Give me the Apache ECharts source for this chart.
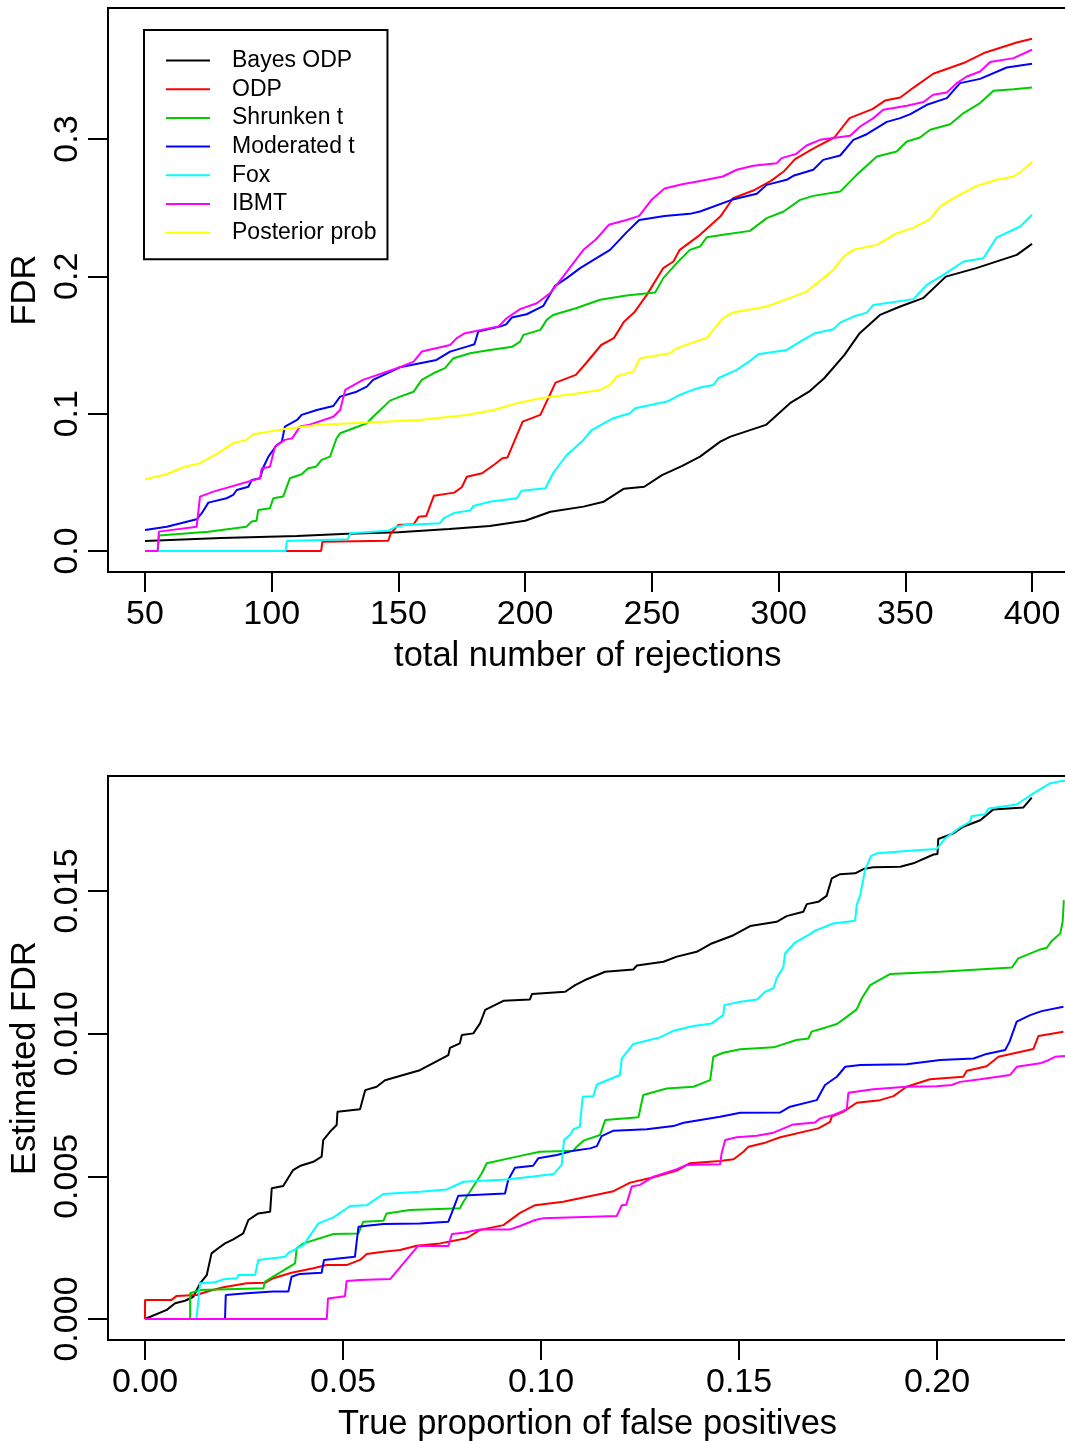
<!DOCTYPE html>
<html>
<head>
<meta charset="utf-8">
<title>FDR comparison</title>
<script src="https://cdn.jsdelivr.net/npm/echarts@6/dist/echarts.min.js"></script>
<style>
  html, body { margin: 0; padding: 0; background: #fff; }
  #main { width: 1065px; height: 1441px; }
</style>
</head>
<body>
<div id="main"></div>
<script>
// method names, in legend order
var methods = ['Bayes ODP', 'ODP', 'Shrunken t', 'Moderated t', 'Fox', 'IBMT', 'Posterior prob'];
var colors = ['#000000', '#FF0000', '#00CD00', '#0000FF', '#00FFFF', '#FF00FF', '#FFFF00'];

// tick labels
var topXTicks = [50, 100, 150, 200, 250, 300, 350, 400];
var topYTicks = [0, 0.1, 0.2, 0.3];
var botXTicks = [0, 0.05, 0.10, 0.15, 0.20];
var botYTicks = [0, 0.005, 0.010, 0.015];

// ---- top panel: FDR vs total number of rejections ----
var topBayesODP = [[50,0.0073],[80,0.0095],[110,0.011],[130,0.0125],[150,0.0136],[170,0.016],[186,0.0182],[200,0.022],[210,0.0286],[223,0.0323],[231,0.0359],[239,0.0454],[247,0.0468],[254,0.0553],[262,0.062],[269,0.0687],[277,0.0796],[281,0.0833],[295,0.0918],[304.5,0.1076],[312,0.116],[318,0.1258],[326,0.1428],[332,0.1586],[340,0.1719],[348,0.178],[357,0.1841],[366,0.1998],[378,0.206],[394,0.2156],[400,0.2236]];
var topODP = [[50,0],[119.5,0],[120,0.0068],[146,0.0075],[147,0.0129],[150,0.019],[156,0.0194],[158,0.025],[161,0.0255],[164,0.0403],[172,0.0425],[175,0.0464],[177,0.0541],[183,0.0566],[188,0.0632],[191,0.0675],[193,0.068],[199,0.0942],[206,0.0991],[212,0.1226],[220,0.1282],[224,0.1367],[230,0.15],[235,0.155],[239,0.167],[243,0.1736],[248,0.1865],[254.5,0.206],[258.5,0.2108],[261,0.2193],[269,0.2302],[277,0.2435],[282,0.2569],[290,0.2625],[297,0.2695],[302,0.2763],[306.5,0.2853],[314,0.2933],[322,0.3011],[328,0.3152],[337,0.3218],[342,0.328],[348,0.3302],[353,0.3371],[361,0.3475],[373,0.3553],[381,0.3626],[394,0.3703],[400,0.373]];
var topShrunkenT = [[50,0],[55,0],[55.5,0.0112],[75,0.014],[90,0.0177],[92,0.0214],[94,0.022],[94.7,0.0299],[99.3,0.0311],[100.6,0.0384],[104.5,0.0396],[107.2,0.053],[111.8,0.0559],[114.4,0.0602],[117.5,0.0614],[119.7,0.0663],[123,0.0687],[125.6,0.0821],[127,0.0857],[137.5,0.093],[140,0.0978],[146.7,0.1095],[150.6,0.1124],[156,0.116],[159.2,0.1246],[163.8,0.1294],[168.4,0.1331],[171.7,0.1404],[178.3,0.144],[186,0.1464],[195,0.1488],[198,0.1525],[199.3,0.1574],[206,0.161],[208.5,0.1683],[211,0.1719],[220,0.1768],[229.6,0.1829],[240,0.186],[251.3,0.1882],[254.5,0.1987],[259.8,0.2096],[265,0.2193],[269,0.2217],[271.7,0.2285],[279.5,0.2307],[288.7,0.2331],[295.3,0.2424],[302,0.2472],[308.5,0.2557],[313.7,0.2586],[324.3,0.2617],[330.8,0.2739],[338.8,0.2872],[346.6,0.2909],[350.6,0.2982],[355.8,0.3011],[359.8,0.3067],[367.7,0.3108],[373,0.3189],[379.5,0.3262],[384.8,0.3351],[392.7,0.3363],[400,0.3375]];
var topModeratedT = [[50,0.0153],[58.6,0.0177],[70.4,0.0231],[72.4,0.0275],[75,0.0352],[82.2,0.0384],[84.8,0.0408],[86.2,0.0444],[90.8,0.0468],[92.1,0.0517],[95.4,0.053],[96.7,0.061],[98.7,0.0687],[102,0.0772],[104,0.0796],[105.2,0.0906],[110,0.0954],[111.8,0.0991],[117.8,0.1027],[124.3,0.1056],[127,0.1124],[133.5,0.116],[137.5,0.1197],[140,0.1246],[150.6,0.1338],[165,0.1391],[170.4,0.1452],[177,0.1488],[180,0.1505],[181.5,0.1598],[190,0.1634],[192.5,0.165],[194.7,0.17],[200.6,0.1724],[207.2,0.1785],[211.8,0.1931],[216.4,0.1987],[221.7,0.206],[227,0.212],[233.5,0.2193],[240,0.232],[245,0.241],[255,0.244],[265,0.2455],[269,0.2472],[281.5,0.2557],[291.4,0.2601],[295.3,0.2666],[303.2,0.2703],[305.8,0.2732],[313.7,0.2776],[317.6,0.2848],[324.3,0.288],[329.5,0.2994],[334.8,0.3035],[342.7,0.3125],[348,0.3152],[352,0.3181],[358.5,0.3249],[366.4,0.3298],[371.6,0.3407],[379.5,0.3438],[390,0.3521],[400,0.3548]];
var topFox = [[50,0],[105.5,0],[106,0.0073],[130,0.0085],[131,0.0129],[146,0.0148],[149.3,0.0177],[152.6,0.019],[166.4,0.0202],[167.7,0.0238],[172.3,0.0279],[178.3,0.0294],[179.6,0.0328],[186,0.0359],[196.7,0.0384],[198.6,0.0439],[208,0.0457],[211,0.0566],[216.4,0.0699],[219,0.0741],[223,0.0809],[226.3,0.0881],[231,0.093],[234.8,0.0967],[241.4,0.1003],[243.4,0.104],[256,0.1088],[261,0.1136],[265,0.1166],[269,0.119],[274.3,0.1209],[276.2,0.1258],[283.5,0.1319],[288.7,0.1384],[292,0.1433],[303.2,0.1464],[308.5,0.1525],[314.4,0.1586],[321.6,0.1615],[324.3,0.1663],[329.5,0.1707],[334.8,0.1736],[337.4,0.1792],[353.2,0.1834],[358.5,0.1938],[365,0.2011],[373,0.2108],[380.8,0.2132],[386,0.2282],[395.3,0.2363],[400,0.2448]];
var topIBMT = [[50,0],[55,0],[55.5,0.0141],[70.4,0.0177],[71.7,0.0396],[77,0.0432],[95.4,0.053],[96,0.06],[99.3,0.0614],[101.3,0.076],[105.2,0.0809],[108,0.082],[111.2,0.0906],[115,0.092],[124.3,0.0978],[127,0.1027],[129,0.1173],[136,0.1246],[150.6,0.1338],[156,0.1379],[159.2,0.1452],[170.4,0.15],[173,0.155],[176.3,0.1586],[189.4,0.1634],[192.7,0.1695],[198,0.1761],[204.6,0.1804],[209.8,0.1877],[215,0.1998],[219,0.2096],[223,0.2193],[228,0.227],[233,0.2375],[240,0.241],[245,0.244],[250,0.256],[255,0.264],[262,0.267],[269,0.2695],[278,0.2727],[283.5,0.2776],[290,0.2805],[299.3,0.2824],[301.2,0.2861],[307,0.2892],[311,0.2953],[316.4,0.2994],[328.2,0.3023],[332.2,0.3091],[337.4,0.3152],[341.3,0.3213],[350.6,0.3242],[357.2,0.3269],[361,0.3322],[366.4,0.3339],[370.3,0.3407],[374.3,0.3455],[379.5,0.3492],[383.5,0.356],[392.7,0.3589],[400,0.365]];
var topPosteriorProb = [[50,0.0522],[58.6,0.0559],[65,0.061],[71.7,0.0639],[78.3,0.0707],[84.8,0.0785],[90,0.0809],[92.7,0.085],[104.6,0.0887],[117.8,0.0918],[137.5,0.0935],[158.5,0.0954],[177,0.0991],[187.5,0.1027],[196.7,0.1076],[206,0.1112],[219,0.1144],[229.6,0.1173],[233.5,0.1209],[236,0.127],[242.7,0.1306],[245.3,0.1404],[257.2,0.144],[259.8,0.1476],[269,0.1537],[271.6,0.155],[278,0.1695],[282,0.1736],[295.3,0.178],[300.6,0.1816],[311,0.1889],[317.7,0.1987],[321.6,0.2047],[325.6,0.2144],[329.5,0.2193],[338.8,0.2229],[346.6,0.2314],[353.2,0.2355],[359.8,0.2416],[363.7,0.2508],[369,0.2569],[378.2,0.2659],[386,0.2703],[392.7,0.2727],[395.5,0.276],[400,0.2832]];

// ---- bottom panel: estimated FDR vs true proportion of false positives ----
var botBayesODP = [[0,0],[0.0055,0.00032],[0.0076,0.00055],[0.0101,0.00064],[0.0122,0.00078],[0.0139,0.00125],[0.0156,0.00154],[0.0168,0.0023],[0.0185,0.00248],[0.0202,0.00265],[0.0223,0.00279],[0.0248,0.003],[0.0261,0.00347],[0.0286,0.0037],[0.0316,0.00376],[0.032,0.00458],[0.0349,0.00466],[0.0374,0.00522],[0.0391,0.00536],[0.0425,0.00551],[0.0446,0.00569],[0.045,0.00627],[0.0467,0.00656],[0.0484,0.0068],[0.0486,0.00726],[0.0543,0.00735],[0.0556,0.00802],[0.0585,0.00814],[0.0606,0.00837],[0.0694,0.00872],[0.0766,0.00925],[0.077,0.0095],[0.0795,0.00966],[0.08,0.00995],[0.0829,0.01001],[0.0846,0.01036],[0.0859,0.01083],[0.0905,0.01115],[0.0972,0.0112],[0.0977,0.01139],[0.1061,0.01147],[0.1086,0.0117],[0.1111,0.01188],[0.1162,0.01217],[0.1233,0.01225],[0.1242,0.01239],[0.1309,0.01252],[0.1343,0.0127],[0.1393,0.01287],[0.1431,0.01316],[0.1486,0.01345],[0.1528,0.01377],[0.1595,0.01392],[0.162,0.01412],[0.1662,0.01427],[0.1671,0.01454],[0.17,0.01462],[0.1721,0.01483],[0.1734,0.01544],[0.1755,0.01559],[0.1793,0.01562],[0.1814,0.01577],[0.1839,0.01583],[0.1907,0.01585],[0.194,0.01597],[0.1991,0.01628],[0.2001,0.0163],[0.2003,0.01682],[0.2041,0.01702],[0.2066,0.01725],[0.2109,0.01748],[0.2142,0.01786],[0.2218,0.01793],[0.2239,0.01827]];
var botODP = [[0,0],[0,0.00067],[0.0067,0.00067],[0.008,0.00081],[0.013,0.00084],[0.0164,0.00099],[0.0198,0.00111],[0.0257,0.00125],[0.0303,0.00127],[0.0324,0.00143],[0.037,0.00162],[0.0425,0.00178],[0.0459,0.00189],[0.0509,0.00189],[0.0543,0.00207],[0.056,0.00228],[0.0602,0.00236],[0.0644,0.00242],[0.0686,0.00257],[0.0745,0.00265],[0.0812,0.00283],[0.0846,0.00312],[0.0905,0.00329],[0.0947,0.00372],[0.0985,0.00399],[0.1056,0.00411],[0.1183,0.00448],[0.1225,0.00478],[0.1284,0.00497],[0.1343,0.0052],[0.1376,0.00546],[0.1452,0.00554],[0.1486,0.0056],[0.1511,0.00586],[0.1524,0.00604],[0.1566,0.00618],[0.1604,0.00637],[0.17,0.00668],[0.173,0.00691],[0.1734,0.00709],[0.1763,0.00726],[0.1797,0.00758],[0.1856,0.00767],[0.189,0.00781],[0.1923,0.00814],[0.1982,0.0084],[0.2066,0.00849],[0.2075,0.0087],[0.2125,0.00886],[0.2155,0.00919],[0.2243,0.00946],[0.2256,0.00992],[0.2319,0.01007]];
var botShrunkenT = [[0,0],[0.0114,0],[0.0114,0.0009],[0.0139,0.00102],[0.0299,0.00108],[0.0303,0.00131],[0.0379,0.00195],[0.0383,0.00248],[0.04,0.00265],[0.0476,0.00298],[0.0539,0.003],[0.0551,0.00341],[0.0602,0.00344],[0.061,0.0037],[0.0669,0.00382],[0.0795,0.00388],[0.0804,0.00411],[0.085,0.0051],[0.0863,0.00546],[0.0939,0.00569],[0.0997,0.00586],[0.1082,0.0059],[0.109,0.00604],[0.1107,0.00625],[0.1149,0.00645],[0.1162,0.00697],[0.1246,0.00707],[0.1258,0.00785],[0.1317,0.00808],[0.1385,0.00814],[0.1427,0.00837],[0.1435,0.00919],[0.146,0.00933],[0.1503,0.00945],[0.1587,0.00952],[0.1645,0.00978],[0.1675,0.00983],[0.1683,0.01007],[0.1717,0.01021],[0.1747,0.01034],[0.1772,0.01059],[0.1797,0.01085],[0.181,0.01124],[0.1831,0.0117],[0.1881,0.01209],[0.2008,0.01217],[0.2189,0.01232],[0.2205,0.01264],[0.2256,0.01293],[0.2277,0.01301],[0.229,0.01326],[0.2311,0.01351],[0.2317,0.01392],[0.232,0.01468]];
var botModeratedT = [[0,0],[0.0202,0],[0.0204,0.00084],[0.0257,0.0009],[0.0324,0.00096],[0.0362,0.00096],[0.037,0.00148],[0.0391,0.00158],[0.0446,0.00162],[0.0452,0.00207],[0.0476,0.0021],[0.053,0.00218],[0.0539,0.00323],[0.056,0.00327],[0.0602,0.00333],[0.0694,0.00335],[0.0766,0.00341],[0.0779,0.00388],[0.0791,0.00432],[0.0909,0.0044],[0.0917,0.00487],[0.0934,0.0053],[0.098,0.00537],[0.0993,0.00563],[0.104,0.00575],[0.1082,0.0059],[0.1124,0.00598],[0.1141,0.00606],[0.1153,0.00641],[0.1183,0.0066],[0.1267,0.00665],[0.1334,0.00676],[0.136,0.00688],[0.1452,0.00709],[0.1503,0.00723],[0.1604,0.00724],[0.1629,0.00744],[0.1696,0.00767],[0.1717,0.0082],[0.1747,0.00849],[0.1768,0.00884],[0.1806,0.0089],[0.1923,0.00893],[0.2008,0.00908],[0.2092,0.00913],[0.2125,0.00929],[0.2172,0.00943],[0.2183,0.00972],[0.2201,0.01042],[0.2235,0.01065],[0.2264,0.01079],[0.2319,0.01094]];
var botFox = [[0,0],[0.013,0],[0.0139,0.00125],[0.0177,0.00129],[0.0198,0.00139],[0.0232,0.00143],[0.0236,0.00154],[0.0278,0.00154],[0.0286,0.00207],[0.0354,0.00218],[0.0362,0.00232],[0.04,0.00259],[0.0438,0.00335],[0.0476,0.00356],[0.0518,0.00396],[0.056,0.00399],[0.0602,0.00438],[0.0694,0.00446],[0.0762,0.00454],[0.0804,0.00481],[0.0913,0.00489],[0.098,0.00499],[0.1032,0.00508],[0.1052,0.0054],[0.1058,0.00627],[0.1073,0.00645],[0.1082,0.00665],[0.1098,0.00674],[0.1105,0.00779],[0.1132,0.00781],[0.1141,0.00822],[0.1199,0.00855],[0.1204,0.00913],[0.1233,0.00964],[0.13,0.00987],[0.1334,0.0101],[0.1385,0.01027],[0.1431,0.01036],[0.146,0.01065],[0.1463,0.011],[0.1503,0.01112],[0.1545,0.0112],[0.1566,0.01147],[0.1587,0.01159],[0.1595,0.01194],[0.1612,0.01234],[0.1616,0.01281],[0.1641,0.01319],[0.1679,0.01349],[0.1692,0.01361],[0.1738,0.01386],[0.1793,0.01396],[0.1797,0.01451],[0.1806,0.01486],[0.1818,0.01573],[0.1833,0.01622],[0.1848,0.01632],[0.1949,0.01643],[0.1999,0.01647],[0.202,0.01684],[0.2058,0.01723],[0.2083,0.01742],[0.2087,0.01762],[0.2121,0.01769],[0.213,0.01789],[0.2201,0.01803],[0.2243,0.01842],[0.2285,0.01877],[0.2311,0.01885],[0.2335,0.01887]];
var botIBMT = [[0,0],[0.0459,0],[0.0462,0.00072],[0.0505,0.0008],[0.0509,0.00133],[0.0543,0.00137],[0.0619,0.0014],[0.069,0.00257],[0.0766,0.00256],[0.0775,0.00298],[0.0804,0.00302],[0.0846,0.00314],[0.0922,0.00314],[0.0947,0.00326],[0.0985,0.00347],[0.1006,0.00353],[0.1191,0.00361],[0.1204,0.00399],[0.1215,0.004],[0.1229,0.00464],[0.125,0.0047],[0.1284,0.00499],[0.1343,0.00525],[0.1368,0.0054],[0.1452,0.00542],[0.1456,0.00581],[0.1465,0.00627],[0.1494,0.00637],[0.1545,0.00642],[0.1587,0.00653],[0.1637,0.00682],[0.1692,0.00689],[0.1705,0.00703],[0.1738,0.00715],[0.1763,0.00729],[0.1772,0.00735],[0.1776,0.00793],[0.1839,0.00805],[0.1923,0.00814],[0.1999,0.00816],[0.2037,0.0082],[0.2058,0.00831],[0.2109,0.0084],[0.2184,0.00855],[0.2201,0.00884],[0.226,0.00896],[0.2281,0.00907],[0.2298,0.00919],[0.2323,0.00922]];

var topData = [topBayesODP, topODP, topShrunkenT, topModeratedT, topFox, topIBMT, topPosteriorProb];
var botData = [botBayesODP, botODP, botShrunkenT, botModeratedT, botFox, botIBMT];

var FONT = 'Liberation Sans, Arial, Helvetica, sans-serif';
var black = '#000';

function xAxisCfg(gridIndex, min, max, ticks, digits, name) {
	return {
		type: 'value',
		gridIndex: gridIndex,
		min: min,
		max: max,
		name: name,
		nameLocation: 'middle',
		nameGap: 67,
		nameMoveOverlap: false,
		nameTextStyle: { color: black, fontSize: 34.5, fontFamily: FONT },
		axisLine: { show: false, onZero: false },
		splitLine: { show: false },
		axisTick: {
			show: true, inside: false, length: 20,
			customValues: ticks,
			lineStyle: { color: black, width: 2 }
		},
		axisLabel: {
			customValues: ticks,
			margin: 26,
			color: black,
			fontSize: 34,
			fontFamily: FONT,
			formatter: function (v) { return digits ? v.toFixed(digits) : String(v); }
		}
	};
}

function yAxisCfg(gridIndex, min, max, ticks, digits, name) {
	return {
		type: 'value',
		gridIndex: gridIndex,
		min: min,
		max: max,
		name: name,
		nameLocation: 'middle',
		nameGap: 65,
		nameMoveOverlap: false,
		nameTextStyle: { color: black, fontSize: 34.5, fontFamily: FONT },
		axisLine: { show: false, onZero: false },
		splitLine: { show: false },
		axisTick: {
			show: true, inside: false, length: 20,
			customValues: ticks,
			lineStyle: { color: black, width: 2 }
		},
		axisLabel: {
			customValues: ticks,
			rotate: 90,
			margin: 23,
			color: black,
			fontSize: 34,
			fontFamily: FONT,
			formatter: function (v) { return v.toFixed(digits); }
		}
	};
}

var series = [];
methods.forEach(function (m, i) {
	series.push({
		name: m, type: 'line', xAxisIndex: 0, yAxisIndex: 0,
		data: topData[i], showSymbol: false, clip: true,
		color: colors[i],
		lineStyle: { width: 2, color: colors[i] }
	});
});
botData.forEach(function (d, i) {
	series.push({
		name: methods[i], type: 'line', xAxisIndex: 1, yAxisIndex: 1,
		data: d, showSymbol: false, clip: true,
		color: colors[i],
		lineStyle: { width: 2, color: colors[i] }
	});
});

var myChart = echarts.init(document.getElementById('main'), null, { renderer: 'canvas' });
var option = {
	backgroundColor: '#fff',
	animation: false,
	tooltip: { show: false },
	legend: {
		data: methods,
		orient: 'vertical',
		left: 144,
		top: 30,
		icon: 'rect',
		itemWidth: 44,
		itemHeight: 2,
		itemGap: 5.7,
		padding: [19, 11, 15, 22],
		borderColor: black,
		borderWidth: 2,
		selectedMode: false,
		textStyle: {
			color: black, fontSize: 23, fontFamily: FONT,
			lineHeight: 23, padding: [0, 0, 0, 17]
		}
	},
	grid: [
		{ left: 108, top: 8, width: 959.5, height: 564, show: true, borderColor: black, borderWidth: 2, outerBoundsMode: 'none' },
		{ left: 108, top: 776, width: 959, height: 564, show: true, borderColor: black, borderWidth: 2, outerBoundsMode: 'none' }
	],
	xAxis: [
		xAxisCfg(0, 35.4, 414, topXTicks, 0, 'total number of rejections'),
		xAxisCfg(1, -0.00934, 0.2328, botXTicks, 2, 'True proportion of false positives')
	],
	yAxis: [
		yAxisCfg(0, -0.0153, 0.3954, topYTicks, 1, 'FDR'),
		yAxisCfg(1, -0.000736, 0.01903, botYTicks, 3, 'Estimated FDR')
	],
	series: series
};
myChart.setOption(option);
</script>
</body>
</html>
